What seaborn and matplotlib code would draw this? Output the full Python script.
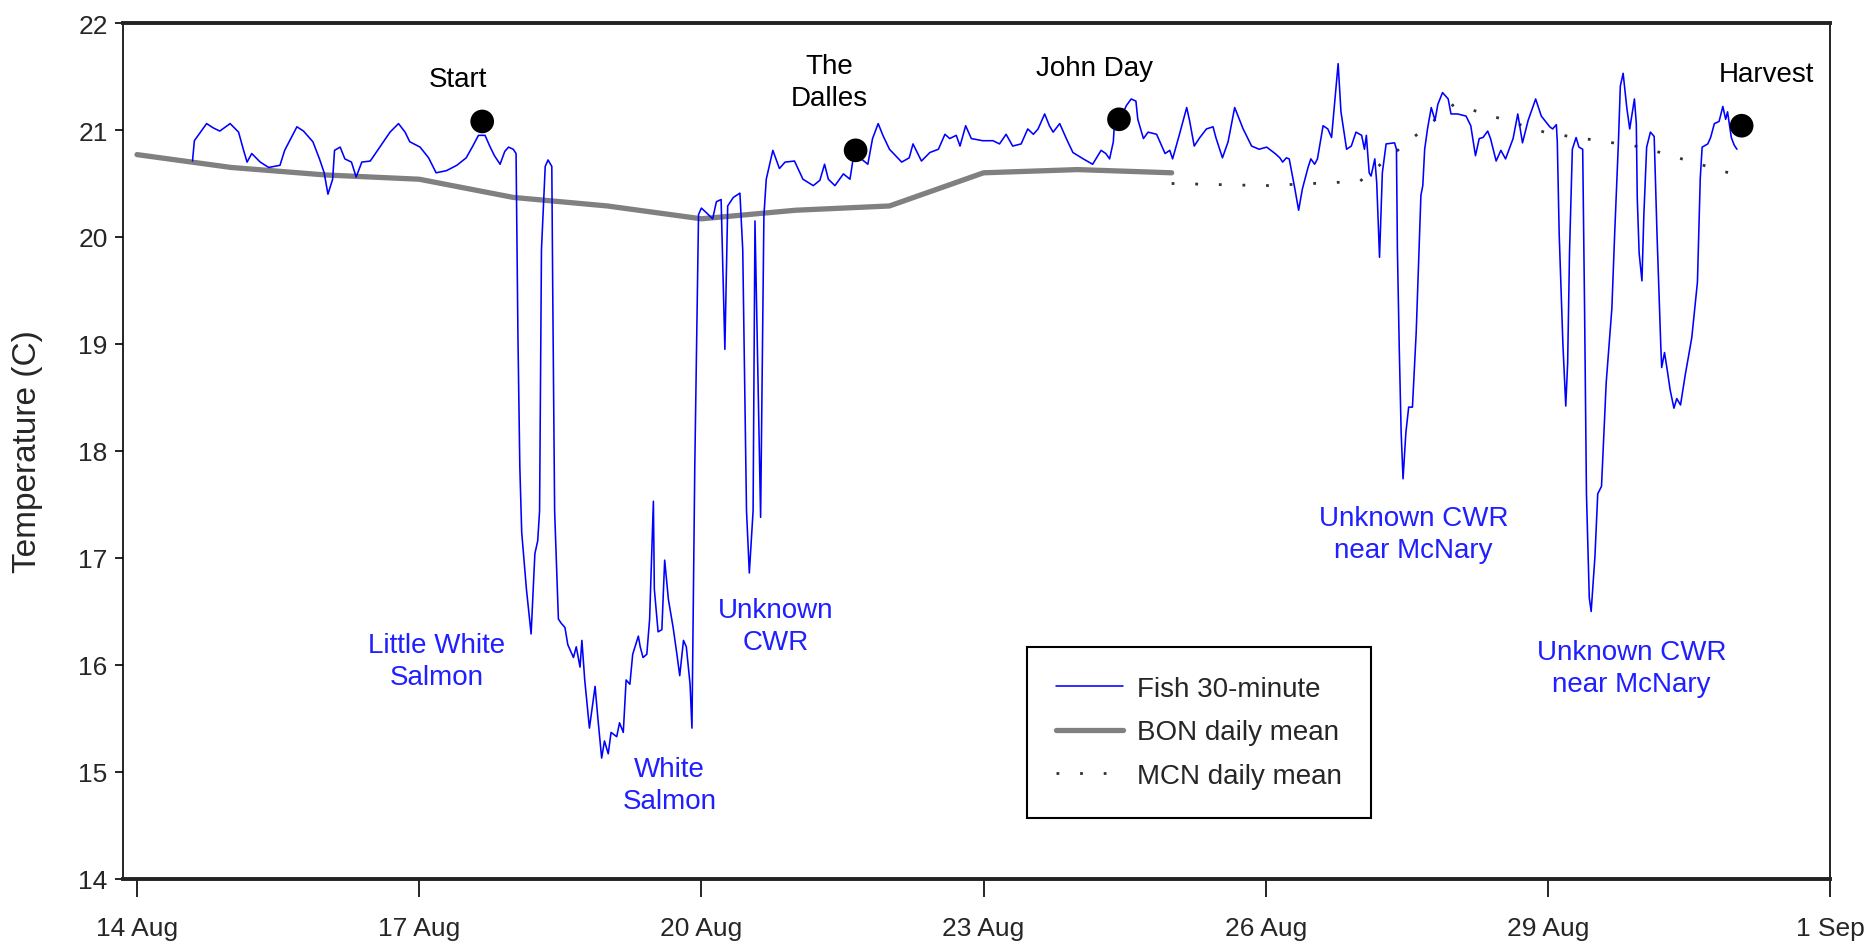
import matplotlib
matplotlib.use("Agg")
import matplotlib.pyplot as plt
import pandas as pd
import seaborn as sns

# ---- data (days after 14 Aug 00:00, temperature in C) ----
fish_day = [0.59, 0.61, 0.74, 0.81, 0.88, 0.99, 1.08, 1.13, 1.17, 1.22, 1.31, 1.40, 1.52, 1.57, 1.70, 1.77,
            1.87, 1.94, 1.99, 2.03, 2.08, 2.10, 2.16, 2.21, 2.28, 2.33, 2.39, 2.48, 2.62, 2.69, 2.78, 2.85,
            2.90, 3.01, 3.10, 3.18, 3.29, 3.40, 3.50, 3.57, 3.63, 3.70, 3.75,
            3.80, 3.86, 3.91, 3.95, 4.00, 4.03, 4.05, 4.07, 4.09, 4.14, 4.19, 4.23, 4.26, 4.28, 4.30, 4.34,
            4.37, 4.41, 4.42, 4.44, 4.48, 4.51, 4.55, 4.58, 4.64, 4.67, 4.71, 4.73, 4.76, 4.81, 4.87, 4.90,
            4.94, 4.97, 5.01, 5.04, 5.10, 5.13, 5.17, 5.20, 5.24, 5.27, 5.33, 5.35, 5.38, 5.42, 5.45, 5.49,
            5.50, 5.54, 5.58, 5.61, 5.65, 5.70, 5.74, 5.77, 5.81, 5.84, 5.88, 5.90, 5.93, 5.97, 6.00, 6.05,
            6.12, 6.16, 6.21, 6.25, 6.28, 6.34, 6.41, 6.44, 6.48, 6.51, 6.55, 6.57, 6.63, 6.665,
            6.69, 6.76, 6.83, 6.89, 6.99, 7.08, 7.19, 7.26, 7.31, 7.35, 7.42, 7.51, 7.58, 7.61, 7.70, 7.77,
            7.82, 7.88, 7.93, 8.00, 8.13, 8.21, 8.25, 8.34, 8.43, 8.52, 8.59, 8.64, 8.71, 8.75, 8.81, 8.87,
            8.99, 9.10, 9.17, 9.24, 9.31, 9.40, 9.47, 9.53, 9.58, 9.65, 9.70, 9.74, 9.81, 9.88, 9.95, 10.06,
            10.16, 10.25, 10.30, 10.34, 10.38, 10.39, 10.45, 10.52, 10.57, 10.62, 10.64, 10.70, 10.75, 10.84,
            10.93, 10.98, 11.01, 11.08, 11.16, 11.19, 11.24, 11.30, 11.37, 11.44, 11.47, 11.54, 11.60, 11.67,
            11.76, 11.85, 11.93, 12.01, 12.10, 12.15,
            12.18, 12.22, 12.25, 12.31, 12.35, 12.39, 12.45, 12.48, 12.52, 12.55, 12.61, 12.66, 12.70, 12.73,
            12.77, 12.80, 12.86, 12.91, 12.96, 13.02, 13.05, 13.07, 13.10, 13.12, 13.16, 13.18, 13.21, 13.24,
            13.28, 13.37, 13.39, 13.40, 13.42, 13.44, 13.46, 13.49, 13.52, 13.56, 13.60, 13.63, 13.65, 13.67,
            13.69, 13.72, 13.76, 13.80, 13.83, 13.88, 13.94, 13.97, 14.04, 14.13, 14.18, 14.23, 14.27, 14.31,
            14.36, 14.39, 14.45, 14.50, 14.55, 14.63, 14.68, 14.73, 14.79, 14.87, 14.93, 15.02,
            15.05, 15.09, 15.10, 15.12, 15.16, 15.19, 15.21, 15.23, 15.26, 15.30, 15.33, 15.37, 15.39, 15.41,
            15.44, 15.46, 15.50, 15.53, 15.57, 15.62, 15.68, 15.71, 15.75, 15.77, 15.80, 15.84, 15.87, 15.92,
            15.94, 15.95, 15.97, 16.00, 16.02, 16.05, 16.09, 16.13, 16.16, 16.20, 16.21, 16.24, 16.27, 16.30,
            16.34, 16.37, 16.41, 16.46, 16.53, 16.59, 16.62, 16.64, 16.70, 16.73, 16.77, 16.82, 16.86, 16.89,
            16.91, 16.95, 16.98, 17.01]
fish_temp = [20.71, 20.90, 21.06, 21.02, 20.99, 21.06, 20.98, 20.82, 20.70, 20.78, 20.70, 20.65, 20.67, 20.81, 21.03, 20.99,
             20.89, 20.73, 20.60, 20.40, 20.54, 20.81, 20.84, 20.73, 20.70, 20.56, 20.70, 20.71, 20.89, 20.98, 21.06, 20.98,
             20.89, 20.84, 20.74, 20.60, 20.62, 20.67, 20.74, 20.85, 20.95, 20.95, 20.85,
             20.76, 20.68, 20.80, 20.84, 20.82, 20.78, 19.07, 17.85, 17.24, 16.71, 16.29, 17.04, 17.16, 17.44, 19.88, 20.66,
             20.72, 20.66, 19.48, 17.44, 16.43, 16.39, 16.35, 16.19, 16.07, 16.17, 15.98, 16.23, 15.86, 15.41, 15.80, 15.50,
             15.13, 15.29, 15.17, 15.37, 15.33, 15.46, 15.37, 15.86, 15.82, 16.10, 16.27, 16.17, 16.07, 16.10, 16.43, 17.53,
             16.71, 16.31, 16.33, 16.98, 16.61, 16.35, 16.10, 15.90, 16.23, 16.17, 15.82, 15.41, 17.85, 20.21, 20.27, 20.23,
             20.17, 20.33, 20.35, 18.95, 20.29, 20.37, 20.41, 19.88, 17.44, 16.86, 17.44, 20.15, 17.38, 20.20,
             20.54, 20.81, 20.64, 20.70, 20.71, 20.54, 20.48, 20.53, 20.68, 20.54, 20.48, 20.59, 20.54, 20.71, 20.73, 20.68,
             20.92, 21.06, 20.95, 20.82, 20.70, 20.74, 20.87, 20.71, 20.79, 20.82, 20.96, 20.92, 20.95, 20.85, 21.04, 20.92,
             20.90, 20.90, 20.87, 20.96, 20.85, 20.87, 21.01, 20.96, 21.01, 21.15, 21.04, 20.98, 21.06, 20.92, 20.79, 20.73,
             20.68, 20.81, 20.78, 20.73, 20.89, 21.04, 21.10, 21.23, 21.29, 21.27, 21.10, 20.92, 20.98, 20.96,
             20.78, 20.81, 20.73, 20.95, 21.21, 21.09, 20.85, 20.93, 21.01, 21.03, 20.93, 20.74, 20.89, 21.21,
             21.01, 20.85, 20.82, 20.84, 20.78, 20.74,
             20.70, 20.74, 20.73, 20.45, 20.25, 20.45, 20.65, 20.73, 20.68, 20.73, 21.04, 21.01, 20.93, 21.23,
             21.62, 21.17, 20.82, 20.85, 20.98, 20.95, 20.82, 20.95, 20.60, 20.57, 20.73, 20.51, 19.81, 20.60,
             20.87, 20.88, 20.82, 19.89, 18.95, 18.17, 17.74, 18.17, 18.41, 18.41, 19.11, 19.89, 20.39, 20.48,
             20.82, 21.01, 21.21, 21.09, 21.24, 21.35, 21.29, 21.15, 21.15, 21.13, 21.04, 20.76, 20.92, 20.93,
             20.99, 20.92, 20.71, 20.81, 20.73, 20.92, 21.15, 20.88, 21.09, 21.29, 21.13, 21.03,
             21.01, 21.05, 20.89, 20.03, 18.99, 18.42, 18.82, 19.86, 20.82, 20.93, 20.84, 20.82, 19.33, 17.60,
             16.63, 16.50, 17.01, 17.60, 17.67, 18.64, 19.33, 20.03, 20.89, 21.41, 21.53, 21.20, 21.01, 21.29,
             21.06, 20.37, 19.85, 19.59, 20.20, 20.84, 20.98, 20.94, 20.03, 18.99, 18.78, 18.92, 18.75, 18.57,
             18.40, 18.49, 18.43, 18.71, 19.06, 19.58, 20.55, 20.84, 20.87, 20.93, 21.06, 21.08, 21.22, 21.10,
             21.17, 20.93, 20.86, 20.82]

bon_day = [0, 1, 2, 3, 4, 5, 6, 7, 8, 9, 10, 11]
bon_temp = [20.77, 20.65, 20.58, 20.54, 20.37, 20.29, 20.17, 20.25, 20.29, 20.60, 20.63, 20.60]

mcn_day = [11, 12, 13, 14, 15, 16, 17]
mcn_temp = [20.50, 20.48, 20.52, 21.24, 20.97, 20.84, 20.58]

event_names = ["Start", "The\nDalles", "John Day", "Harvest"]
event_day = [3.67, 7.64, 10.44, 17.06]
event_temp = [21.08, 20.81, 21.10, 21.04]

cwr_names = ["Little White\nSalmon", "White\nSalmon", "Unknown\nCWR", "Unknown CWR\nnear McNary", "Unknown CWR\nnear McNary"]

series_names = ["Fish 30-minute", "BON daily mean", "MCN daily mean"]

tick_days = [0, 3, 6, 9, 12, 15, 18]
tick_labels = ["14 Aug", "17 Aug", "20 Aug", "23 Aug", "26 Aug", "29 Aug", "1 Sep"]
y_ticks = [14, 15, 16, 17, 18, 19, 20, 21, 22]

# ---- style ----
sns.set_style("white")
plt.rcParams['font.family'] = ['Liberation Sans', 'DejaVu Sans']

fig = plt.figure(figsize=(18.72, 9.45), dpi=100)
ax = fig.add_axes([0.0657, 0.0688, 0.9119, 0.9058])

fish = pd.DataFrame({"day": fish_day, "temp": fish_temp})
bon = pd.DataFrame({"day": bon_day, "temp": bon_temp})
mcn = pd.DataFrame({"day": mcn_day, "temp": mcn_temp})

sns.lineplot(data=fish, x="day", y="temp", ax=ax, color="#0000ff", lw=1.15,
             sort=False, estimator=None, label=series_names[0], zorder=3)
sns.lineplot(data=bon, x="day", y="temp", ax=ax, color="#808080", lw=3.8,
             sort=False, estimator=None, label=series_names[1], zorder=2)
sns.lineplot(data=mcn, x="day", y="temp", ax=ax, color="#333333", lw=2.0,
             sort=False, estimator=None, label=series_names[2], zorder=2)
ax.lines[2].set_linestyle((0, (1.0, 7.5)))
ax.lines[2].set_dash_capstyle("butt")

sns.scatterplot(x=event_day, y=event_temp, ax=ax, s=290, color="black",
                edgecolor="none", zorder=5, legend=False)

# event labels
ev_pos = [(3.41, 21.48), (7.36, 21.45), (10.18, 21.58), (17.32, 21.52)]
for name, (px, py) in zip(event_names, ev_pos):
    ax.text(px, py, name, ha="center", va="center", fontsize=20, color="black",
            linespacing=1.3)

# cold-water refuge labels
cwr_pos = [(3.19, 16.04), (5.66, 14.88), (6.79, 16.36), (13.57, 17.22), (15.89, 15.97)]
for name, (px, py) in zip(cwr_names, cwr_pos):
    ax.text(px, py, name, ha="center", va="center", fontsize=20, color="#1f1fff",
            linespacing=1.3)

ax.set_xlim(-0.149, 18)
ax.set_ylim(14, 22)
ax.set_xticks(tick_days)
ax.set_xticklabels(tick_labels)
ax.set_yticks(y_ticks)
ax.set_yticklabels([str(v) for v in y_ticks])
ax.set_xlabel("")
ax.set_ylabel("Temperature (C)", fontsize=24)
ax.yaxis.set_label_coords(-0.047, 0.5)

ax.tick_params(axis="x", direction="out", length=13, width=1.2, labelsize=19, pad=14,
               color="black", bottom=True)
ax.tick_params(axis="y", direction="out", length=6, width=1.2, labelsize=19, pad=5,
               color="black", left=True)

for side in ["left", "right"]:
    ax.spines[side].set_color("black")
    ax.spines[side].set_linewidth(1.2)
for side in ["top", "bottom"]:
    ax.spines[side].set_color("#222222")
    ax.spines[side].set_linewidth(2.8)

leg = ax.legend(loc="upper left", bbox_to_anchor=(0.5296, 0.271), frameon=True,
                fancybox=False, edgecolor="black", fontsize=20, handlelength=2.4,
                borderpad=1.05, labelspacing=0.62, handletextpad=0.5, borderaxespad=0)
leg.get_frame().set_linewidth(1.5)
leg.get_frame().set_facecolor("white")
leg.get_frame().set_alpha(1)
leg.set_zorder(6)

fig.savefig("out.png", dpi=100)
